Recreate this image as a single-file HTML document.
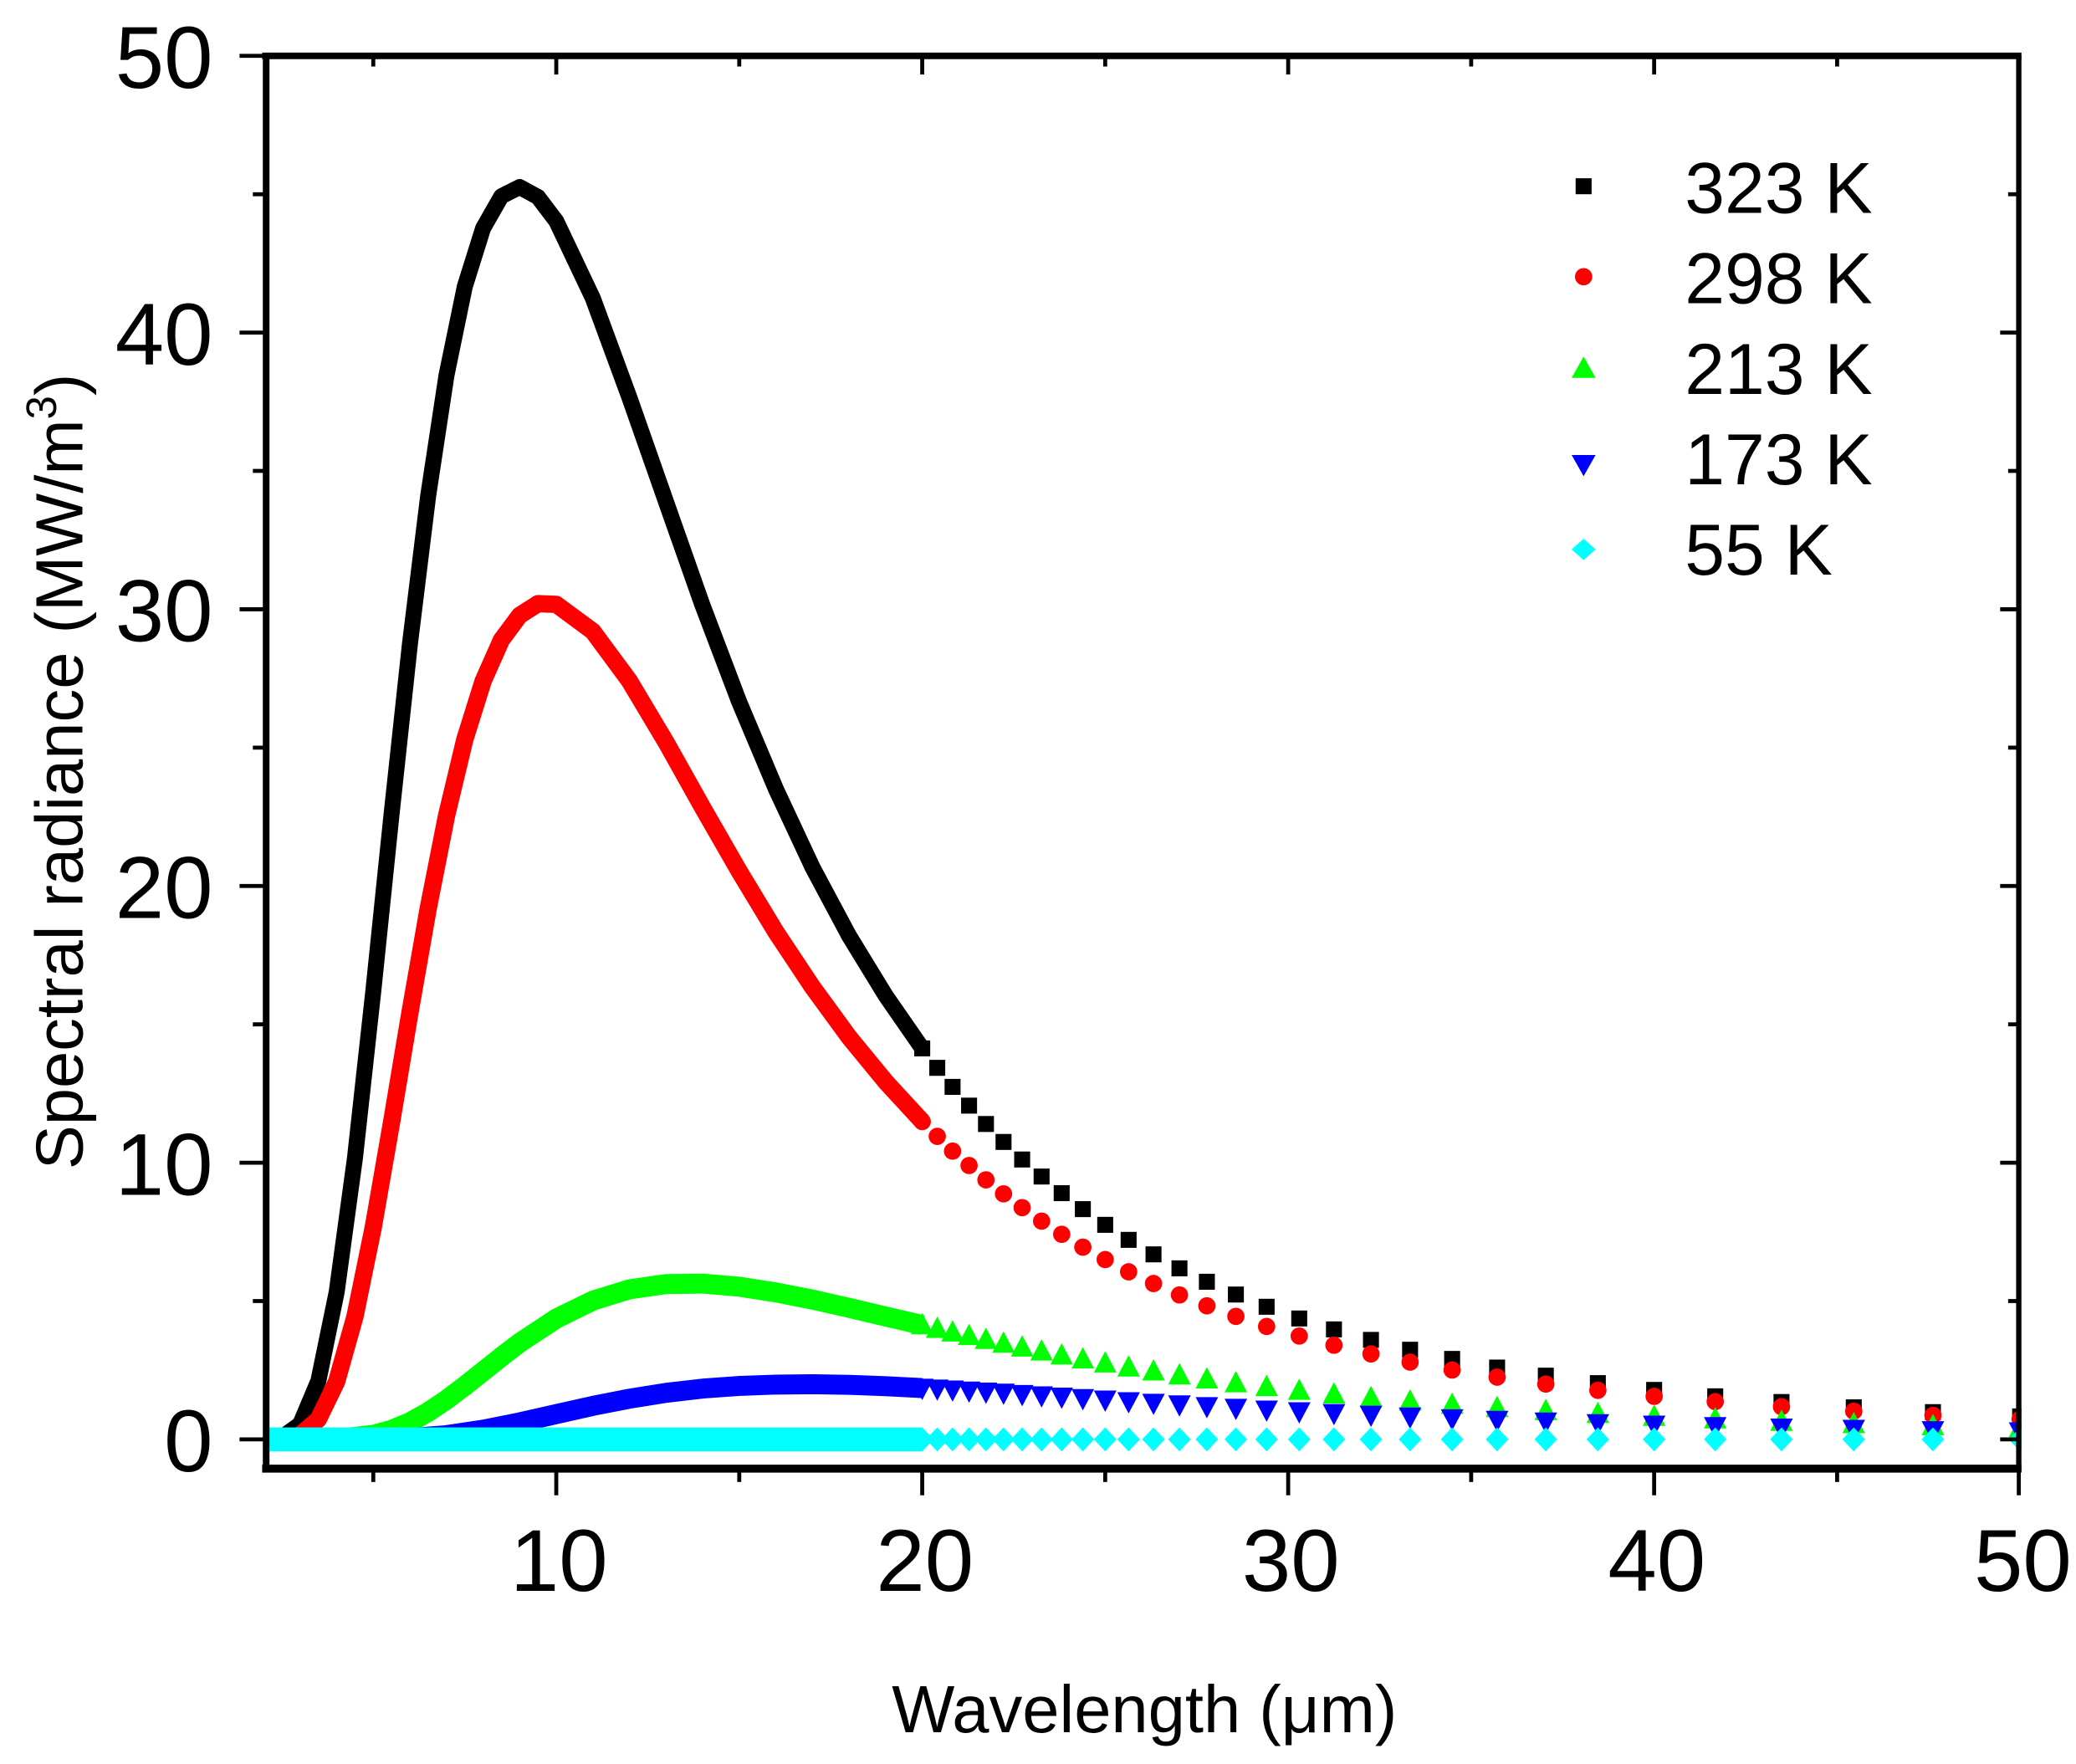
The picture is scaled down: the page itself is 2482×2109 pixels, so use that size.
<!DOCTYPE html>
<html><head><meta charset="utf-8"><style>
html,body{margin:0;padding:0;background:#fff;}
svg{display:block;}
text{font-family:"Liberation Sans",Arial,sans-serif;fill:#000;}
</style></head><body>
<svg width="2482" height="2109" viewBox="0 0 1560 1326" preserveAspectRatio="none" xmlns="http://www.w3.org/2000/svg">
<defs>
<marker id="ms" markerUnits="userSpaceOnUse" markerWidth="12" markerHeight="12" refX="6" refY="6" overflow="visible"><rect width="12" height="12" fill="#000"/></marker>
<marker id="mc" markerUnits="userSpaceOnUse" markerWidth="14" markerHeight="14" refX="7" refY="7" overflow="visible"><circle cx="7" cy="7" r="6.5" fill="#f00"/></marker>
<marker id="mt" markerUnits="userSpaceOnUse" markerWidth="17" markerHeight="16" refX="8.5" refY="9" overflow="visible"><polygon points="0,16 8.5,0 17,16" fill="#0f0"/></marker>
<marker id="md" markerUnits="userSpaceOnUse" markerWidth="17" markerHeight="16" refX="8.5" refY="7" overflow="visible"><polygon points="0,0 17,0 8.5,16" fill="#00f"/></marker>
<marker id="mi" markerUnits="userSpaceOnUse" markerWidth="17" markerHeight="18" refX="8.5" refY="9" overflow="visible"><polygon points="8.5,0 17,9 8.5,18 0,9" fill="#0ff"/></marker>
</defs>
<rect width="1560" height="1326" fill="#fff"/>

<!-- black 323K -->
<polyline fill="none" stroke="#000" stroke-width="12" stroke-linejoin="round" points="203,1082 211.75,1080.5 225.5,1070.6 239.25,1038 253,971.2 266.75,870.3 280.5,745.2 294.25,611.9 308,484.4 321.75,372.7 335.5,282.2 349.25,215.5 363,171.6 376.75,147.5 390.5,140.6 404.25,148.1 418,166.2 445.5,224.2 473,298.9 500.5,377.3 528,455.3 555.5,527.7 583,593 610.5,651.9 638,703.4 665.5,748.4 693,788.1"/>
<polyline fill="none" stroke="none" marker-start="url(#ms)" marker-mid="url(#ms)" marker-end="url(#ms)" points="1518,1064.7 1452.5,1061.5 1393,1057.9 1338.7,1053.9 1288.9,1049.6 1243,1044.8 1200.7,1039.7 1161.6,1034.1 1125,1028 1091.2,1021.5 1059.6,1014.6 1030.2,1007.2 1002.4,999.3 976.3,991.1 951.8,982.3 928.7,973.1 906.9,963.5 886.3,953.4 866.8,942.9 848.1,932 830.5,920.7 813.7,908.9 797.8,896.9 782.7,884.4 768.1,871.6 754.1,858.4 740.9,844.9 728.2,831.1 715.8,817 704.3,802.7 693,788.1"/>

<!-- red 298K -->
<polyline fill="none" stroke="#f00" stroke-width="13" stroke-linejoin="round" points="205,1082 211.75,1081.7 225.5,1078.7 239.25,1066.9 253,1038.5 266.75,989.6 280.5,922.5 294.25,843.6 308,761.5 321.75,683.1 335.5,613.4 349.25,556 363,512.1 376.75,481.1 390.5,462.6 404.25,453.8 418,454.3 445.5,474.6 473,511.9 500.5,558 528,607.1 555.5,655 583,700.5 610.5,741.9 638,779.6 665.5,813.1 693,843"/>
<polyline fill="none" stroke="none" marker-start="url(#mc)" marker-mid="url(#mc)" marker-end="url(#mc)" points="1518,1066.7 1452.5,1063.9 1393,1060.8 1338.7,1057.4 1288.9,1053.6 1243,1049.6 1200.7,1045.1 1161.6,1040.4 1125,1035.2 1091.2,1029.8 1059.6,1023.9 1030.2,1017.7 1002.4,1011.2 976.3,1004.3 951.8,997.1 928.7,989.5 906.9,981.6 886.3,973.4 866.8,964.8 848.1,956 830.5,946.8 813.7,937.5 797.8,927.8 782.7,917.9 768.1,907.8 754.1,897.4 740.9,886.9 728.2,876.1 715.8,865.3 704.3,854.2 693,843.1"/>

<!-- green 213K -->
<polyline fill="none" stroke="#0f0" stroke-width="15" stroke-linejoin="round" points="205,1082 253,1081.6 280.5,1078.6 294.25,1074.8 308,1069.1 321.75,1061.4 335.5,1052.2 349.25,1041.8 363,1030.9 376.75,1019.9 390.5,1009.4 418,991.2 445.5,977.7 473,969.2 500.5,965.2 528,964.9 555.5,967.2 583,971.5 610.5,976.9 638,983.1 665.5,989.6 693,996"/>
<polyline fill="none" stroke="none" marker-start="url(#mt)" marker-mid="url(#mt)" marker-end="url(#mt)" points="1518,1073.3 1452.5,1071.8 1393,1070.3 1338.7,1068.6 1288.9,1066.7 1243,1064.8 1200.7,1062.7 1161.6,1060.5 1125,1058.2 1091.2,1055.8 1059.6,1053.3 1030.2,1050.7 1002.4,1048 976.3,1045.3 951.8,1042.4 928.7,1039.6 906.9,1036.7 886.3,1033.7 866.8,1030.7 848.1,1027.7 830.5,1024.7 813.7,1021.7 797.8,1018.7 782.7,1015.7 768.1,1012.7 754.1,1009.8 740.9,1007 728.2,1004.1 715.8,1001.4 704.3,998.7 693,996"/>

<!-- blue 173K -->
<polyline fill="none" stroke="#00f" stroke-width="15" stroke-linejoin="round" points="205,1082 308,1081 335.5,1078.8 363,1074.7 390.5,1069.2 418,1063 445.5,1056.8 473,1051.4 500.5,1047 528,1043.8 555.5,1041.8 583,1040.8 610.5,1040.5 638,1041 665.5,1042 693,1043.4"/>
<polyline fill="none" stroke="none" marker-start="url(#md)" marker-mid="url(#md)" marker-end="url(#md)" points="1518,1076.2 1452.5,1075.3 1393,1074.3 1338.7,1073.3 1288.9,1072.2 1243,1071.1 1200.7,1070 1161.6,1068.8 1125,1067.5 1091.2,1066.3 1059.6,1065 1030.2,1063.7 1002.4,1062.4 976.3,1061.1 951.8,1059.8 928.7,1058.5 906.9,1057.2 886.3,1055.9 866.8,1054.7 848.1,1053.5 830.5,1052.3 813.7,1051.2 797.8,1050.1 782.7,1049.1 768.1,1048.1 754.1,1047.1 740.9,1046.3 728.2,1045.5 715.8,1044.7 704.3,1044 693,1043.4"/>

<!-- cyan 55K -->
<rect x="200" y="1073" width="493" height="18" fill="#0ff"/>
<polyline fill="none" stroke="none" marker-start="url(#mi)" marker-mid="url(#mi)" marker-end="url(#mi)" points="1518,1082 1452.5,1082 1393,1082 1338.7,1082 1288.9,1082 1243,1082 1200.7,1082 1161.6,1082 1125,1082 1091.2,1082 1059.6,1082 1030.2,1082 1002.4,1082 976.3,1082 951.8,1082 928.7,1082 906.9,1082 886.3,1082 866.8,1082 848.1,1082 830.5,1082 813.7,1082 797.8,1082 782.7,1082 768.1,1082 754.1,1082 740.9,1082 728.2,1082 715.8,1082 704.3,1082 693,1082"/>

<!-- cover overflow right of axis -->
<rect x="1519" y="40" width="41" height="1070" fill="#fff"/>

<!-- axes -->
<g stroke="#000" fill="none">
<line x1="200" y1="42" x2="200" y2="1106" stroke-width="5"/>
<line x1="197" y1="1104" x2="1519" y2="1104" stroke-width="6"/>
<line x1="197" y1="42" x2="1519" y2="42" stroke-width="5"/>
<line x1="1517" y1="42" x2="1517" y2="1106" stroke-width="4"/>
<g stroke-width="3">
<line x1="280.5" y1="1104" x2="280.5" y2="1114"/><line x1="418" y1="1104" x2="418" y2="1124"/>
<line x1="555.5" y1="1104" x2="555.5" y2="1114"/><line x1="693" y1="1104" x2="693" y2="1124"/>
<line x1="830.5" y1="1104" x2="830.5" y2="1114"/><line x1="968" y1="1104" x2="968" y2="1124"/>
<line x1="1105.5" y1="1104" x2="1105.5" y2="1114"/><line x1="1243" y1="1104" x2="1243" y2="1124"/>
<line x1="1380.5" y1="1104" x2="1380.5" y2="1114"/><line x1="1517" y1="1104" x2="1517" y2="1124"/>
<line x1="280.5" y1="42" x2="280.5" y2="50"/><line x1="418" y1="42" x2="418" y2="56"/>
<line x1="555.5" y1="42" x2="555.5" y2="50"/><line x1="693" y1="42" x2="693" y2="56"/>
<line x1="830.5" y1="42" x2="830.5" y2="50"/><line x1="968" y1="42" x2="968" y2="56"/>
<line x1="1105.5" y1="42" x2="1105.5" y2="50"/><line x1="1243" y1="42" x2="1243" y2="56"/>
<line x1="1380.5" y1="42" x2="1380.5" y2="50"/>
<line x1="180" y1="42" x2="200" y2="42"/><line x1="190" y1="146" x2="200" y2="146"/>
<line x1="180" y1="250" x2="200" y2="250"/><line x1="190" y1="354" x2="200" y2="354"/>
<line x1="180" y1="458" x2="200" y2="458"/><line x1="190" y1="562" x2="200" y2="562"/>
<line x1="180" y1="666" x2="200" y2="666"/><line x1="190" y1="770" x2="200" y2="770"/>
<line x1="180" y1="874" x2="200" y2="874"/><line x1="190" y1="978" x2="200" y2="978"/>
<line x1="180" y1="1082" x2="200" y2="1082"/>
<line x1="1517" y1="146" x2="1509" y2="146"/><line x1="1517" y1="250" x2="1503" y2="250"/>
<line x1="1517" y1="354" x2="1509" y2="354"/><line x1="1517" y1="458" x2="1503" y2="458"/>
<line x1="1517" y1="562" x2="1509" y2="562"/><line x1="1517" y1="666" x2="1503" y2="666"/>
<line x1="1517" y1="770" x2="1509" y2="770"/><line x1="1517" y1="874" x2="1503" y2="874"/>
<line x1="1517" y1="978" x2="1509" y2="978"/><line x1="1517" y1="1082" x2="1503" y2="1082"/>
</g>
</g>

<g font-size="66" text-anchor="end">
<text x="160" y="66">50</text>
<text x="160" y="274">40</text>
<text x="160" y="482">30</text>
<text x="160" y="690">20</text>
<text x="160" y="898">10</text>
<text x="160" y="1106">0</text>
</g>
<g font-size="66" text-anchor="middle">
<text x="420" y="1196">10</text>
<text x="695" y="1196">20</text>
<text x="970" y="1196">30</text>
<text x="1245" y="1196">40</text>
<text x="1520" y="1196">50</text>
</g>
<text x="860" y="1302" font-size="50" text-anchor="middle">Wavelength (μm)</text>
<text transform="translate(62,580) rotate(-90)" font-size="50" text-anchor="middle">Spectral radiance (MW/m<tspan font-size="32" dy="-20">3</tspan><tspan dy="20">)</tspan></text>
<g font-size="54">
<text x="1266" y="160">323 K</text>
<text x="1266" y="228">298 K</text>
<text x="1266" y="296">213 K</text>
<text x="1266" y="364">173 K</text>
<text x="1266" y="432">55 K</text>
</g>
<rect x="1184" y="134" width="12" height="12" fill="#000"/>
<circle cx="1190" cy="208" r="6.5" fill="#f00"/>
<polygon points="1190,268 1199,284 1181,284" fill="#0f0"/>
<polygon points="1181,342 1199,342 1190,358" fill="#00f"/>
<polygon points="1190,405 1199,413 1190,421 1181,413" fill="#0ff"/>
</svg>
</body></html>
